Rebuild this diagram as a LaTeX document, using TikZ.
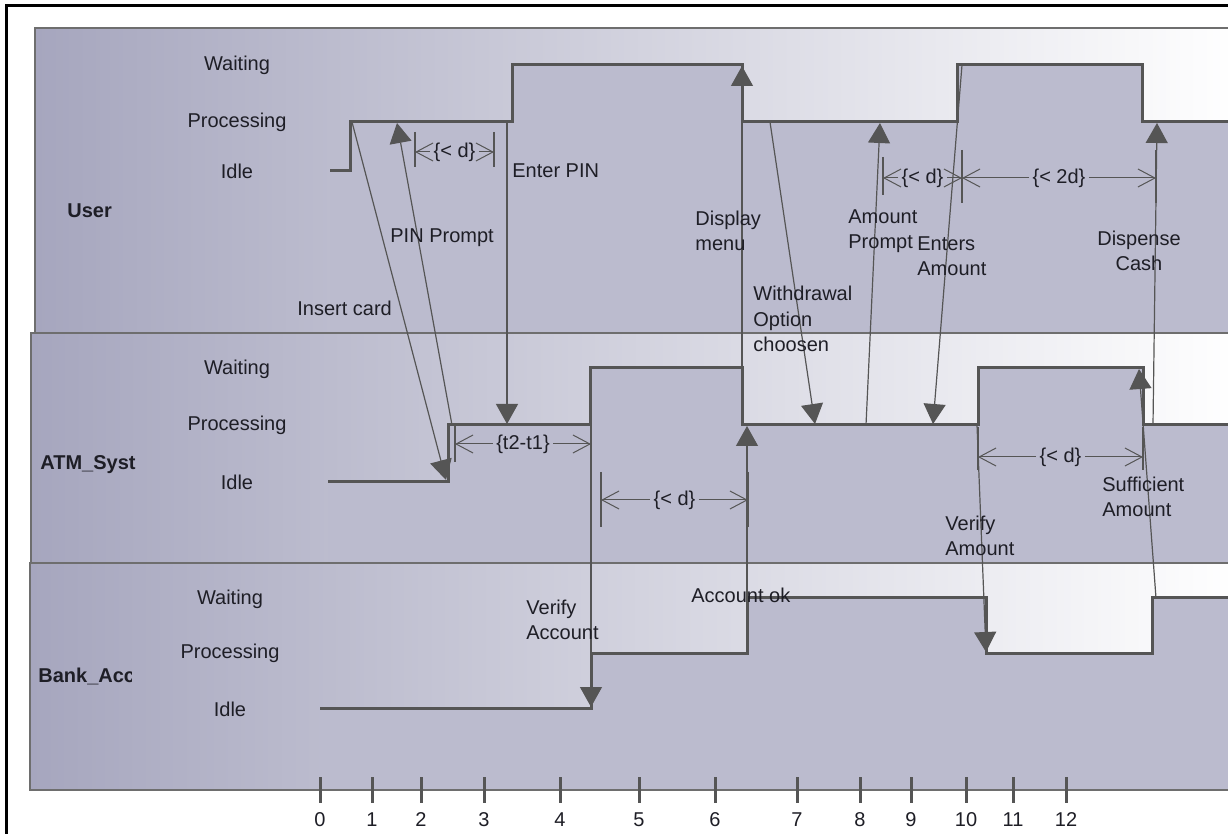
\documentclass[tikz,border=0pt]{standalone}
\usepackage{fontspec}
\setmainfont{Liberation Sans}
\usepackage{tikz}
\usetikzlibrary{calc,arrows.meta}
\definecolor{laneDark}{RGB}{166,166,190}
\definecolor{laneFill}{RGB}{187,187,206}
\definecolor{laneEdge}{RGB}{110,110,110}
\definecolor{timeGray}{RGB}{85,85,85}
\definecolor{labelInk}{RGB}{30,30,38}

\begin{document}
\begin{tikzpicture}[x=0.5pt,y=-0.5pt,
  lane/.style={left color=laneDark, right color=white},
  laneedge/.style={draw=laneEdge, line width=0.9pt},
  undercurve/.style={fill=laneFill},
  timeline/.style={draw=timeGray, line width=1.5pt, line join=miter},
  msg/.style={draw=timeGray, line width=0.6pt, -{Triangle[length=10pt,width=11pt]}},
  extline/.style={draw=timeGray, line width=1pt},
  dimtip/.style={draw=timeGray, line width=0.5pt, -{Straight Barb[length=8.5pt,width=9pt]}},
  lvl/.style={font=\fontsize{10}{12}\selectfont, text=labelInk},
  lifeline/.style={font=\fontsize{10}{12}\selectfont\bfseries, text=labelInk, anchor=west, inner sep=0pt},
  msglbl/.style={font=\fontsize{10}{12.75}\selectfont, text=labelInk, align=left, anchor=west, inner sep=0pt},
  dimlbl/.style={font=\fontsize{10}{12}\selectfont, text=labelInk, inner sep=1.5pt},
  tick/.style={draw=timeGray, line width=1.5pt},
  ticklbl/.style={font=\fontsize{10}{12}\selectfont, text=labelInk}]

\clip (0,0) rectangle (1228,834);
\fill[white] (0,0) rectangle (1228,834);

\path[lane] (35,28) rectangle (1240,333);
\path[lane] (31,333) rectangle (1240,563);
\path[lane] (30,563) rectangle (1240,790);

\fill[undercurve] (330,333) -- (330,171) -- (350,171) -- (350,122) -- (512,122) -- (512,65) -- (742,65) -- (742,122) -- (957,122) -- (957,65) -- (1142,65) -- (1142,122) -- (1240,122) -- (1240,333) -- cycle;
\fill[undercurve] (328,563) -- (328,482) -- (448,482) -- (448,425) -- (590,425) -- (590,368) -- (742,368) -- (742,425) -- (978,425) -- (978,368) -- (1143,368) -- (1143,425) -- (1240,425) -- (1240,563) -- cycle;
\fill[undercurve] (320,790) -- (320,708) -- (591,708) -- (591,653) -- (747,653) -- (747,598) -- (986,598) -- (986,653) -- (1152,653) -- (1152,598) -- (1240,598) -- (1240,790) -- cycle;

\draw[laneedge] (35,28) rectangle (1240,333);
\draw[laneedge] (31,333) rectangle (1240,563);
\draw[laneedge] (30,563) rectangle (1240,790);

\draw[line width=1.5pt] (6,840) -- (6,6) -- (1240,6);

\node[lifeline] (user) at (67,211) {User};
\node[lifeline] (atm) at (40,465) {ATM\_Syst};
\begin{scope}
  \clip (30,640) rectangle (131,710);
  \node[lifeline] (bank) at (38,676) {Bank\_Acc};
\end{scope}

\foreach \lvl/\yy in {Waiting/65,Processing/122,Idle/171}
  \node[lvl] (user\lvl) at (237,\yy) {\lvl};
\foreach \lvl/\yy in {Waiting/369,Processing/425,Idle/482}
  \node[lvl] (atm\lvl) at (237,\yy) {\lvl};
\foreach \lvl/\yy in {Waiting/599,Processing/653,Idle/709}
  \node[lvl] (bank\lvl) at (230,\yy) {\lvl};

\draw[timeline] (330,171) -- (350,171) -- (350,122) -- (512,122) -- (512,65) -- (742,65) -- (742,122) -- (957,122) -- (957,65) -- (1142,65) -- (1142,122) -- (1240,122);
\draw[timeline] (328,482) -- (448,482) -- (448,425) -- (590,425) -- (590,368) -- (742,368) -- (742,425) -- (978,425) -- (978,368) -- (1143,368) -- (1143,425) -- (1240,425);
\draw[timeline] (320,708) -- (591,708) -- (591,653) -- (747,653) -- (747,598) -- (986,598) -- (986,653) -- (1152,653) -- (1152,598) -- (1240,598);

\coordinate (insertS) at (352,122);   \coordinate (insertE) at (446,480);
\coordinate (pinS) at (452,425);      \coordinate (pinE) at (397,123);
\coordinate (enterS) at (507,122);    \coordinate (enterE) at (507,424);
\coordinate (menuS) at (742,368);     \coordinate (menuE) at (742,66);
\coordinate (withS) at (770,122);     \coordinate (withE) at (815,424);
\coordinate (promptS) at (866,425);   \coordinate (promptE) at (880,123);
\coordinate (amountS) at (962,65);    \coordinate (amountE) at (933,424);
\coordinate (vaccS) at (591,425);     \coordinate (vaccE) at (591,707);
\coordinate (okS) at (747,598);       \coordinate (okE) at (747,426);
\coordinate (vamtS) at (977,425);     \coordinate (vamtE) at (986,652);
\coordinate (suffS) at (1156,598);    \coordinate (suffE) at (1139,369);
\coordinate (cashS) at (1153,425);    \coordinate (cashE) at (1157,123);

\draw[msg] (insertS) -- (insertE);
\draw[msg] (pinS) -- (pinE);
\draw[msg] (enterS) -- (enterE);
\draw[msg] (menuS) -- (menuE);
\draw[msg] (withS) -- (withE);
\draw[msg] (promptS) -- (promptE);
\draw[msg] (amountS) -- (amountE);
\draw[msg] (vaccS) -- (vaccE);
\draw[msg] (okS) -- (okE);
\draw[msg] (vamtS) -- (vamtE);
\draw[msg] (suffS) -- (suffE);
\draw[msg] (cashS) -- (cashE);

\node[msglbl] (insertLbl) at (297,308) {Insert card};
\node[msglbl] (pinLbl) at (390,238) {PIN Prompt};
\node[msglbl] (enterLbl) at (512,171) {Enter PIN};
\node[msglbl] (menuLbl) at (695,231) {Display\\menu};
\node[msglbl] (withLbl) at (753,319) {Withdrawal\\Option\\choosen};
\node[msglbl] (promptLbl) at (848,231) {Amount\\Prompt};
\node[msglbl] (amountLbl) at (917,256) {Enters\\Amount};
\node[msglbl, align=center, anchor=center] (cashLbl) at (1139,251) {Dispense\\Cash};
\node[msglbl] (vaccLbl) at (526,620) {Verify\\Account};
\node[msglbl] (okLbl) at (691,595) {Account ok};
\node[msglbl] (vamtLbl) at (945,536) {Verify\\Amount};
\node[msglbl] (suffLbl) at (1102,497) {Sufficient\\Amount};

\foreach \nm/\txt/\xl/\xr/\yy/\ya/\yb in {
    pinGap/{\{< d\}}/415/494/152/132/167,
    atmGap/{\{t2-t1\}}/455/591/444/425/462,
    bankGap/{\{< d\}}/601/748/500/472/527,
    promptGap/{\{< d\}}/883/962/178/157/195,
    cashGap/{\{< 2d\}}/962/1156/178/150/203,
    verifyGap/{\{< d\}}/978/1143/457/427/470}{
  \coordinate (\nm-l) at (\xl,\ya);
  \coordinate (\nm-r) at (\xr,\ya);
  \draw[extline] (\nm-l) -- (\xl,\yb);
  \draw[extline] (\nm-r) -- (\xr,\yb);
  \node[dimlbl] (\nm) at ({(\xl+\xr)/2},\yy) {\txt};
  \draw[dimtip] (\nm.west) -- (\nm.west -| \nm-l);
  \draw[dimtip] (\nm.east) -- (\nm.east -| \nm-r);
}

\foreach \n/\px in {0/320,1/372,2/421,3/484,4/560,5/639,6/715,7/797,8/860,9/911,10/966,11/1013,12/1066}{
  \draw[tick] (\px,777) -- (\px,803);
  \node[ticklbl] (tk\n) at (\px,820) {\n};
}
\end{tikzpicture}
\end{document}
